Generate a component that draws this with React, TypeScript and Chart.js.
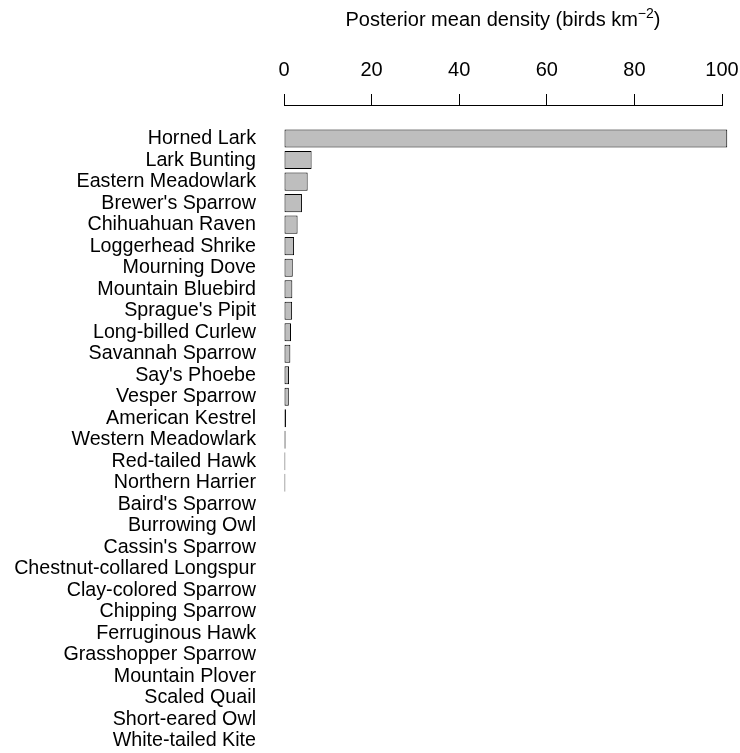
import React, { useEffect, useRef } from "react";
import { Chart, registerables } from "chart.js";

Chart.register(...registerables);

const species: string[] = [
  "Horned Lark",
  "Lark Bunting",
  "Eastern Meadowlark",
  "Brewer's Sparrow",
  "Chihuahuan Raven",
  "Loggerhead Shrike",
  "Mourning Dove",
  "Mountain Bluebird",
  "Sprague's Pipit",
  "Long-billed Curlew",
  "Savannah Sparrow",
  "Say's Phoebe",
  "Vesper Sparrow",
  "American Kestrel",
  "Western Meadowlark",
  "Red-tailed Hawk",
  "Northern Harrier",
  "Baird's Sparrow",
  "Burrowing Owl",
  "Cassin's Sparrow",
  "Chestnut-collared Longspur",
  "Clay-colored Sparrow",
  "Chipping Sparrow",
  "Ferruginous Hawk",
  "Grasshopper Sparrow",
  "Mountain Plover",
  "Scaled Quail",
  "Short-eared Owl",
  "White-tailed Kite",
];

const density: number[] = [
  101.2, 6.3, 5.4, 4.1, 3.1, 2.3, 2.0, 1.9, 1.85, 1.6, 1.45, 1.15, 1.1, 0.45,
  0.35, 0.3, 0.3, 0, 0, 0, 0, 0, 0, 0, 0, 0, 0, 0, 0,
];

const xTickStep = 20;
const xMin = 0;
const xMax = 100;
const titleMain = "Posterior mean density (birds km";
const titleSup = "\u22122";
const titleEnd = ")";

const FONT = "'Liberation Sans', Arial, Helvetica, sans-serif";

const titlePlugin = {
  id: "rTitle",
  afterDraw(chart: any) {
    const { ctx, chartArea } = chart;
    ctx.save();
    ctx.fillStyle = "#000000";
    ctx.textBaseline = "alphabetic";
    ctx.textAlign = "left";
    const mainFont = `20px ${FONT}`;
    const supFont = `14px ${FONT}`;
    ctx.font = mainFont;
    const w1 = ctx.measureText(titleMain).width;
    const w3 = ctx.measureText(titleEnd).width;
    ctx.font = supFont;
    const w2 = ctx.measureText(titleSup).width;
    const total = w1 + w2 + w3;
    const cx = (chartArea.left + chartArea.right) / 2;
    let x = cx - total / 2;
    const baseline = 26;
    ctx.font = mainFont;
    ctx.fillText(titleMain, x, baseline);
    x += w1;
    ctx.font = supFont;
    ctx.fillText(titleSup, x, baseline - 8);
    x += w2;
    ctx.font = mainFont;
    ctx.fillText(titleEnd, x, baseline);
    ctx.restore();
  },
};

export default function App() {
  const canvasRef = useRef<HTMLCanvasElement | null>(null);

  useEffect(() => {
    const canvas = canvasRef.current;
    if (!canvas) return;
    const chart = new Chart(canvas, {
      type: "bar",
      data: {
        datasets: [
          {
            data: density.map((v, i) => ({ x: v, y: i })),
            backgroundColor: "#bebebe",
            borderColor: "#000000",
            borderWidth: 1,
            borderSkipped: false,
            categoryPercentage: 1,
            barPercentage: 0.84,
            clip: false as any,
          },
        ],
      },
      options: {
        indexAxis: "y",
        animation: false,
        responsive: true,
        maintainAspectRatio: false,
        layout: { padding: { left: 0, right: 18, top: 46, bottom: 1 } },
        plugins: {
          legend: { display: false },
          tooltip: { enabled: false },
          title: { display: false },
        },
        scales: {
          x: {
            type: "linear",
            position: "top",
            min: xMin,
            max: xMax,
            afterFit: (scale: any) => {
              scale.paddingLeft = 0;
              scale.paddingRight = 0;
            },
            ticks: {
              stepSize: xTickStep,
              color: "#000000",
              font: { family: FONT, size: 20 },
              padding: 12,
              maxRotation: 0,
            },
            grid: {
              drawOnChartArea: false,
              drawTicks: true,
              tickLength: 11,
              color: "#000000",
            },
            border: { display: true, color: "#000000", width: 1 },
          },
          y: {
            type: "linear",
            reverse: true,
            offset: false,
            min: -1.56,
            max: 28.51,
            afterFit: (scale: any) => {
              scale.width = 284;
              scale.paddingTop = 0;
              scale.paddingBottom = 0;
            },
            ticks: {
              stepSize: 1,
              includeBounds: false,
              maxTicksLimit: 200,
              autoSkip: false,
              color: "#000000",
              font: { family: FONT, size: 19.7 },
              padding: 28,
              callback: (value: any) => {
                const v = Number(value);
                const r = Math.round(v);
                if (Math.abs(v - r) > 1e-6 || r < 0 || r >= species.length) return "";
                return species[r];
              },
            },
            grid: { display: false, drawTicks: false, offset: false },
            border: { display: false },
          },
        },
      },
      plugins: [titlePlugin],
    });
    return () => chart.destroy();
  }, []);

  return (
    <div style={{ position: "fixed", left: 0, top: 0, width: 740, height: 753, background: "#ffffff" }}>
      <canvas ref={canvasRef} />
    </div>
  );
}
